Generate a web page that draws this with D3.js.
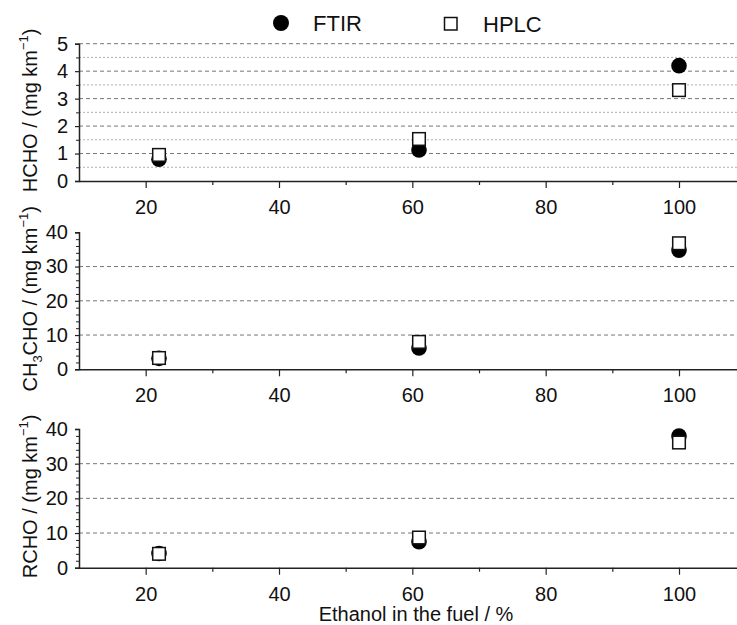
<!DOCTYPE html>
<html><head><meta charset="utf-8">
<script src="https://cdn.jsdelivr.net/npm/d3@7"></script>
<style>
body{margin:0;background:#fff;}
svg{display:block;font-family:"Liberation Sans",Arial,sans-serif;}
</style></head>
<body>
<svg id="c" width="737" height="625"></svg>
<script>
const ethanol = [22, 61, 100];
const hchoFTIR = [0.79, 1.13, 4.2];
const hchoHPLC = [0.95, 1.53, 3.31];
const ch3choFTIR = [3.2, 6.2, 34.8];
const ch3choHPLC = [3.3, 8.0, 36.8];
const rchoFTIR = [4.1, 7.5, 38.0];
const rchoHPLC = [4.0, 8.7, 36.1];
const xTicks = [20, 40, 60, 80, 100];
const xMinorTicks = [30, 50, 70, 90];
const seriesNames = ["FTIR", "HPLC"];

const svg = d3.select("#c");
const W = 737;
const x = d3.scaleLinear().domain([10, 108.7]).range([79, 737]);

const panels = [
  {pre:"HCHO", y0:181, y1:43.7, max:5, major:[0,1,2,3,4,5], grid:[1,2,3,4,5], gridMinor:d3.range(0.5,5,1), minorTicks:d3.range(0.5,5,1), f:hchoFTIR, h:hchoHPLC},
  {sub:true, y0:369.3, y1:232.3, max:40, major:[0,10,20,30,40], grid:[10,20,30], gridMinor:[], minorTicks:d3.range(2,40,2).filter(v=>v%10!==0), f:ch3choFTIR, h:ch3choHPLC},
  {pre:"RCHO", y0:567.7, y1:429, max:40, major:[0,10,20,30,40], grid:[10,20,30], gridMinor:[], minorTicks:d3.range(2,40,2).filter(v=>v%10!==0), f:rchoFTIR, h:rchoHPLC}
];

panels.forEach(p => {
  const y = d3.scaleLinear().domain([0, p.max]).range([p.y0, p.y1]);
  const g = svg.append("g");
  g.selectAll(".gm").data(p.gridMinor).join("line")
    .attr("x1", x.range()[0]).attr("x2", W)
    .attr("y1", d=>y(d)).attr("y2", d=>y(d))
    .attr("stroke", "#b0b0b0").attr("stroke-width", 1).attr("stroke-dasharray", "2,2");
  g.selectAll(".gM").data(p.grid).join("line")
    .attr("x1", x.range()[0]).attr("x2", W)
    .attr("y1", d=>y(d)).attr("y2", d=>y(d))
    .attr("stroke", "#777").attr("stroke-width", 1).attr("stroke-dasharray", "4,3");

  const ya = g.append("g").attr("transform", `translate(${x.range()[0]},0)`)
    .call(d3.axisLeft(y).tickValues(p.major).tickSize(4).tickPadding(7).tickFormat(d3.format("d")));
  ya.select(".domain").attr("stroke", "#222").attr("stroke-width", 1.5);
  ya.selectAll(".tick line").attr("stroke", "#222").attr("stroke-width", 1.2);
  ya.selectAll("text").attr("font-size", 20).attr("fill", "#111").attr("font-family", "Liberation Sans, Arial, sans-serif");
  const yam = g.append("g").attr("transform", `translate(${x.range()[0]},0)`)
    .call(d3.axisLeft(y).tickValues(p.minorTicks).tickSize(3).tickFormat(""));
  yam.select(".domain").remove();
  yam.selectAll(".tick line").attr("stroke", "#222").attr("stroke-width", 1);

  const xa = g.append("g").attr("transform", `translate(0,${p.y0})`)
    .call(d3.axisBottom(x).tickValues(xTicks).tickSize(7).tickPadding(12).tickSizeOuter(0));
  xa.select(".domain").attr("stroke", "#222").attr("stroke-width", 1.5);
  xa.selectAll(".tick line").attr("stroke", "#222").attr("stroke-width", 1.2);
  xa.selectAll("text").attr("font-size", 20).attr("fill", "#111").attr("font-family", "Liberation Sans, Arial, sans-serif");
  const xam = g.append("g").attr("transform", `translate(0,${p.y0})`)
    .call(d3.axisBottom(x).tickValues(xMinorTicks).tickSize(4).tickFormat(""));
  xam.select(".domain").remove();
  xam.selectAll(".tick line").attr("stroke", "#222").attr("stroke-width", 1.2);

  const cy = (p.y0 + p.y1) / 2 - 2;
  const t = g.append("text").attr("transform", `translate(37,${cy}) rotate(-90)`)
    .attr("text-anchor", "middle").attr("font-size", 20).attr("fill", "#111");
  if (p.sub) {
    t.append("tspan").text("CH");
    t.append("tspan").text("3").attr("font-size", 13).attr("dy", 5);
    t.append("tspan").text("CHO / (mg km").attr("dy", -5);
  } else {
    t.append("tspan").text(p.pre + " / (mg km");
  }
  t.append("tspan").text("\u22121").attr("font-size", 13).attr("dy", -9);
  t.append("tspan").text(")").attr("dy", 9);

  const data = ethanol.map((e,i)=>({e, f:p.f[i], h:p.h[i]}));
  g.selectAll(".f").data(data).join("circle")
    .attr("cx", d=>x(d.e)).attr("cy", d=>y(d.f)).attr("r", 7.8).attr("fill", "#000");
  g.selectAll(".h").data(data).join("rect")
    .attr("x", d=>x(d.e)-6.3).attr("y", d=>y(d.h)-6.3).attr("width", 12.6).attr("height", 12.6)
    .attr("fill", "#fff").attr("stroke", "#111").attr("stroke-width", 1.5);
});

svg.append("text").attr("x", 416).attr("y", 621).attr("text-anchor", "middle")
  .attr("font-size", 20).attr("fill", "#111").text("Ethanol in the fuel / %");

const lg = svg.append("g");
lg.append("circle").attr("cx", 281).attr("cy", 23).attr("r", 8).attr("fill", "#000");
lg.append("text").attr("x", 313).attr("y", 31).attr("font-size", 22).attr("fill", "#111").text(seriesNames[0]);
lg.append("rect").attr("x", 444.5).attr("y", 17.5).attr("width", 12.5).attr("height", 12.5)
  .attr("fill", "#fff").attr("stroke", "#111").attr("stroke-width", 1.5);
lg.append("text").attr("x", 483).attr("y", 32).attr("font-size", 22).attr("fill", "#111").text(seriesNames[1]);
</script>
</body></html>
